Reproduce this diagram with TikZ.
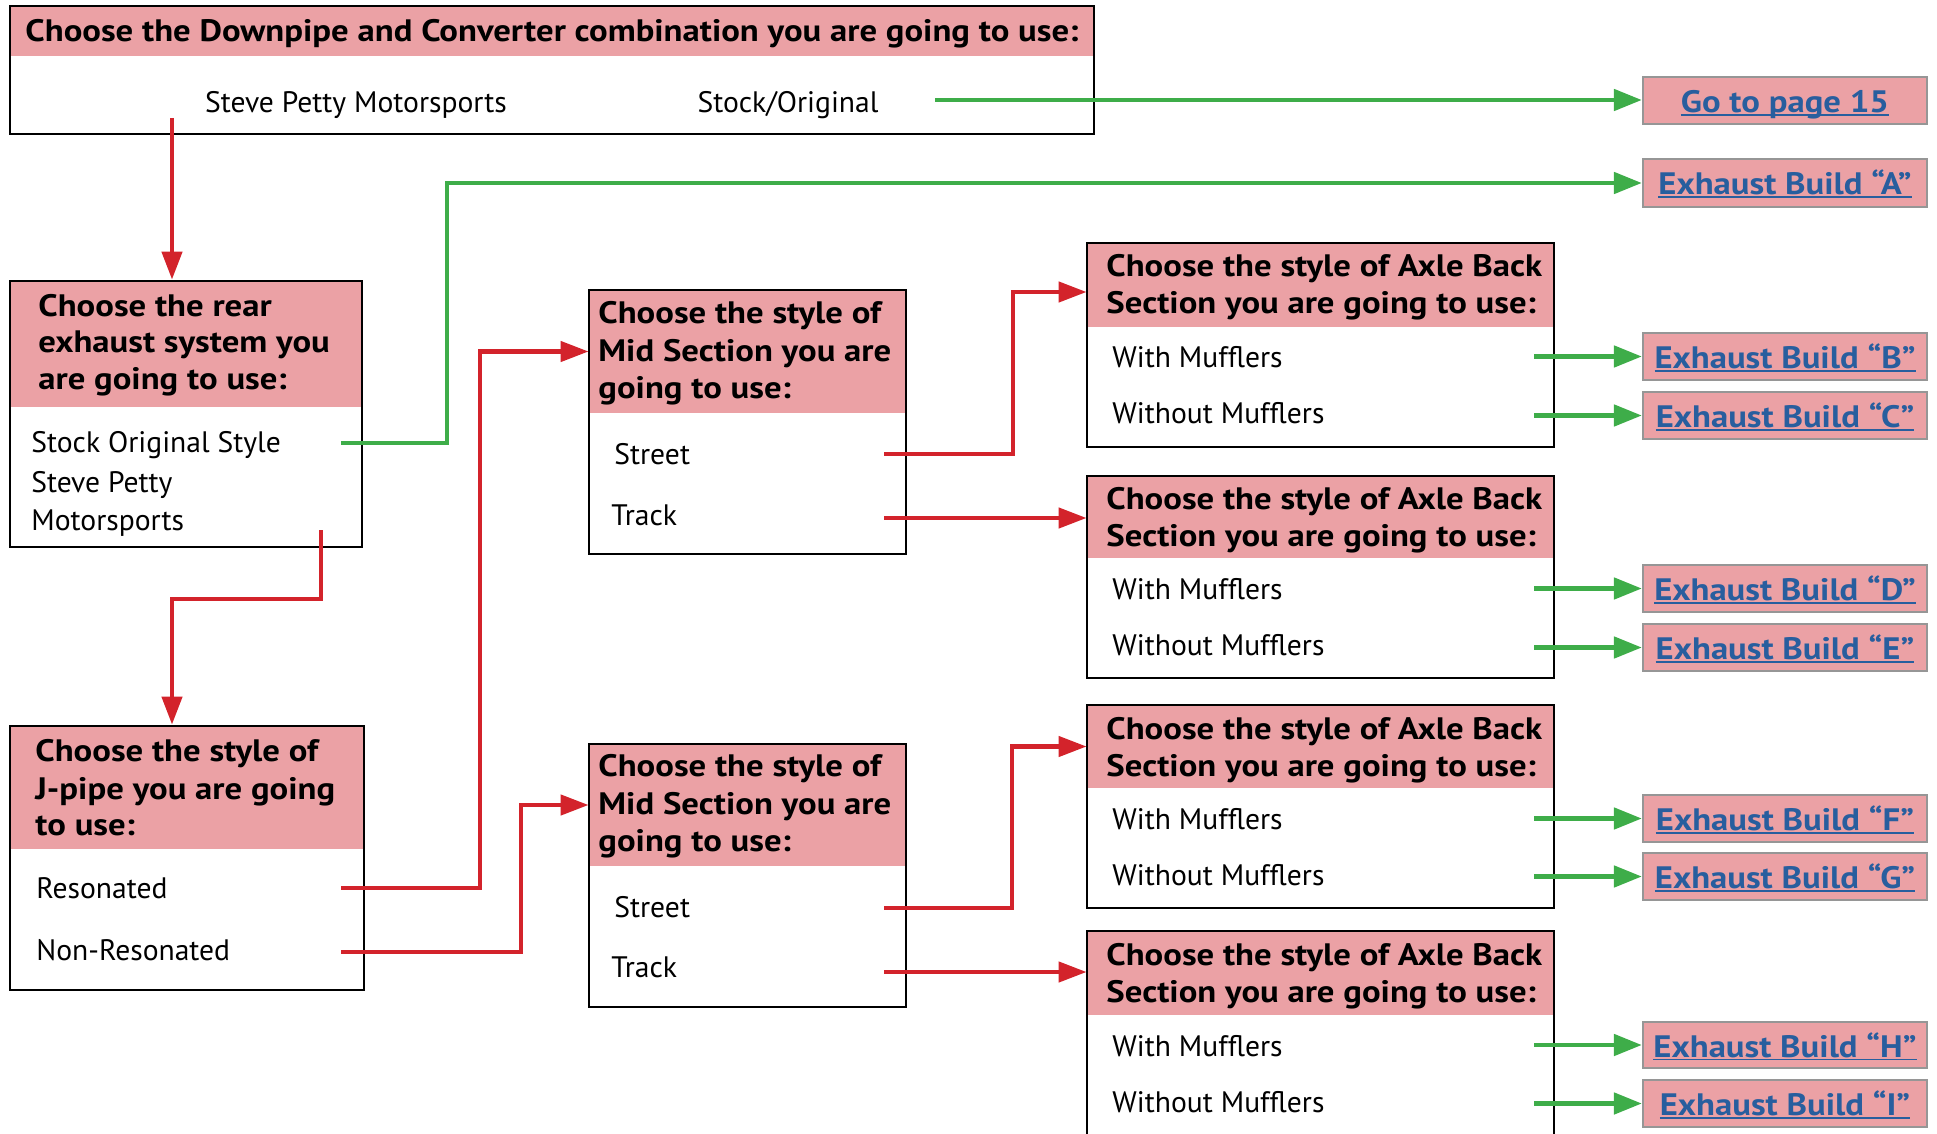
\documentclass[tikz,border=0pt]{standalone}
\usepackage{fontspec}
\setmainfont{PT Sans}
\newfontfamily\hfont{PT Sans}[FakeStretch=1.12]
\usetikzlibrary{arrows.meta,fit}
\definecolor{hpink}{RGB}{235,161,165}
\definecolor{ared}{RGB}{211,35,43}
\definecolor{agreen}{RGB}{62,173,73}
\definecolor{lblue}{RGB}{40,94,158}
\definecolor{lgray}{RGB}{150,150,150}
\newcommand\lnk[1]{\setbox0\hbox{#1}\rlap{\rule[-1.7pt]{\wd0}{0.95pt}}\box0}
\begin{document}
\begin{tikzpicture}[x=0.5pt,y=-0.5pt,
 frame/.style={draw=black,line width=1.4pt,inner sep=0pt},
 hdr/.style={fill=hpink,draw=none,inner sep=0pt},
 ht/.style={font=\hfont\fontsize{15.5}{18}\selectfont\bfseries,anchor=base west,inner sep=0pt},
 ot/.style={font=\fontsize{14.8}{17}\selectfont,anchor=base west,inner sep=0pt},
 linkbox/.style={fill=hpink,draw=lgray,line width=1.1pt,inner sep=0pt},
 lt/.style={font=\hfont\fontsize{15.5}{18}\selectfont\bfseries,text=lblue,inner sep=0pt,anchor=base},
 redarrow/.style={draw=ared,line width=2.2pt,-{Triangle[length=14pt,width=10pt]}},
 greenarrow/.style={draw=agreen,line width=2.4pt,-{Triangle[length=14pt,width=10.5pt]}},
]
\useasboundingbox (0,0) rectangle (1937,1134);
\clip (0,0) rectangle (1937,1134);

% ---------- top box
\node[hdr,fit={(10,6) (1094,56)}] (toph) {};
\node[frame,fit={(10,6) (1094,134)}] (top) {};
\node[ht,anchor=base] (toptxt) at (552,42) {Choose the Downpipe and Converter combination you are going to use:};
\node[ot,anchor=base] (topo1) at (356,113) {Steve Petty Motorsports};
\node[ot,anchor=base] (topo2) at (788,113) {Stock/Original};

% ---------- rear exhaust box
\node[hdr,fit={(10,281) (362,407)}] (rearh) {};
\node[frame,fit={(10,281) (362,547)}] (rear) {};
\node[ht] (rt1) at (38,316) {Choose the rear};
\node[ht] (rt2) at (38,352) {exhaust system you};
\node[ht] (rt3) at (38,389) {are going to use:};
\node[ot] (ro1) at (31,452) {Stock Original Style};
\node[ot] (ro2) at (31,492) {Steve Petty};
\node[ot] (ro3) at (31,530) {Motorsports};

% ---------- J-pipe box
\node[hdr,fit={(10,726) (364,849)}] (jph) {};
\node[frame,fit={(10,726) (364,990)}] (jp) {};
\node[ht] (jt1) at (35,761) {Choose the style of};
\node[ht] (jt2) at (35,799) {J-pipe you are going};
\node[ht] (jt3) at (35,835) {to use:};
\node[ot] (jo1) at (36,898) {Resonated};
\node[ot] (jo2) at (36,960) {Non-Resonated};

% ---------- mid section boxes
\node[hdr,fit={(589,290) (906,413)}] (m1h) {};
\node[frame,fit={(589,290) (906,554)}] (m1) {};
\node[ht] (m1t1) at (598,323) {Choose the style of};
\node[ht] (m1t2) at (598,361) {Mid Section you are};
\node[ht] (m1t3) at (598,398) {going to use:};
\node[ot] (m1o1) at (614,464) {Street};
\node[ot] (m1o2) at (611,525) {Track};

\node[hdr,fit={(589,744) (906,866)}] (m2h) {};
\node[frame,fit={(589,744) (906,1007)}] (m2) {};
\node[ht] (m2t1) at (598,776) {Choose the style of};
\node[ht] (m2t2) at (598,814) {Mid Section you are};
\node[ht] (m2t3) at (598,851) {going to use:};
\node[ot] (m2o1) at (614,917) {Street};
\node[ot] (m2o2) at (611,977) {Track};

% ---------- axle back boxes
\node[hdr,fit={(1087,243) (1554,327)}] (a1h) {};
\node[frame,fit={(1087,243) (1554,447)}] (a1) {};
\node[ht] (a1t1) at (1106,277) {Choose the style of Axle Back};
\node[ht] (a1t2) at (1106,314) {Section you are going to use:};
\node[ot] (a1o1) at (1112,367) {With Mufflers};
\node[ot] (a1o2) at (1112,423) {Without Mufflers};

\node[hdr,fit={(1087,476) (1554,558)}] (a2h) {};
\node[frame,fit={(1087,476) (1554,678)}] (a2) {};
\node[ht] (a2t1) at (1106,509) {Choose the style of Axle Back};
\node[ht] (a2t2) at (1106,546) {Section you are going to use:};
\node[ot] (a2o1) at (1112,599) {With Mufflers};
\node[ot] (a2o2) at (1112,655) {Without Mufflers};

\node[hdr,fit={(1087,705) (1554,788)}] (a3h) {};
\node[frame,fit={(1087,705) (1554,908)}] (a3) {};
\node[ht] (a3t1) at (1106,739) {Choose the style of Axle Back};
\node[ht] (a3t2) at (1106,776) {Section you are going to use:};
\node[ot] (a3o1) at (1112,829) {With Mufflers};
\node[ot] (a3o2) at (1112,885) {Without Mufflers};

\node[hdr,fit={(1087,931) (1554,1015)}] (a4h) {};
\node[frame,fit={(1087,931) (1554,1150)}] (a4) {};
\node[ht] (a4t1) at (1106,965) {Choose the style of Axle Back};
\node[ht] (a4t2) at (1106,1002) {Section you are going to use:};
\node[ot] (a4o1) at (1112,1056) {With Mufflers};
\node[ot] (a4o2) at (1112,1112) {Without Mufflers};

% ---------- link boxes
\node[linkbox,fit={(1643,77) (1927,124)}] (bP) {};
\node[lt] (tP) at ([yshift=-6pt]bP.center) {\lnk{Go to page 15}};
\node[linkbox,fit={(1643,159) (1927,207)}] (bA) {};
\node[lt] (tA) at ([yshift=-6pt]bA.center) {\lnk{Exhaust Build “A”}};
\node[linkbox,fit={(1643,333) (1927,380)}] (bB) {};
\node[lt] (tB) at ([yshift=-6pt]bB.center) {\lnk{Exhaust Build “B”}};
\node[linkbox,fit={(1643,392) (1927,439)}] (bC) {};
\node[lt] (tC) at ([yshift=-6pt]bC.center) {\lnk{Exhaust Build “C”}};
\node[linkbox,fit={(1643,565) (1927,612)}] (bD) {};
\node[lt] (tD) at ([yshift=-6pt]bD.center) {\lnk{Exhaust Build “D”}};
\node[linkbox,fit={(1643,624) (1927,671)}] (bE) {};
\node[lt] (tE) at ([yshift=-6pt]bE.center) {\lnk{Exhaust Build “E”}};
\node[linkbox,fit={(1643,795) (1927,842)}] (bF) {};
\node[lt] (tF) at ([yshift=-6pt]bF.center) {\lnk{Exhaust Build “F”}};
\node[linkbox,fit={(1643,853) (1927,900)}] (bG) {};
\node[lt] (tG) at ([yshift=-6pt]bG.center) {\lnk{Exhaust Build “G”}};
\node[linkbox,fit={(1643,1022) (1927,1068)}] (bH) {};
\node[lt] (tH) at ([yshift=-6pt]bH.center) {\lnk{Exhaust Build “H”}};
\node[linkbox,fit={(1643,1080) (1927,1127)}] (bI) {};
\node[lt] (tI) at ([yshift=-6pt]bI.center) {\lnk{Exhaust Build “I”}};

% ---------- connectors
\coordinate (tpS) at (172,118);
\draw[redarrow] (tpS) -- (tpS |- rear.north);
\coordinate (tpG) at (935,100);
\draw[greenarrow] (tpG) -- (tpG -| bP.west);

\coordinate (rO1) at (341,443);
\draw[greenarrow] (rO1) -- ++(106,0) |- (bA.west);
\coordinate (rO2) at (321,530);
\draw[redarrow] (rO2) -- ++(0,69) -| (tpS |- jp.north);

\coordinate (jO1) at (341,888);
\draw[redarrow] (jO1) -- ++(139,0) |- (m1h.west);
\coordinate (jO2) at (341,952);
\draw[redarrow] (jO2) -- ++(180,0) |- (m2h.west);

\coordinate (m1S) at (884,454);
\draw[redarrow] (m1S) -- ++(129,0) |- ([yshift=-3.5pt]a1h.west);
\coordinate (m1T) at (884,518);
\draw[redarrow] (m1T) -- (m1T -| a2h.west);
\coordinate (m2S) at (884,908);
\draw[redarrow] (m2S) -- ++(128,0) |- (a3h.west);
\coordinate (m2T) at (884,972);
\draw[redarrow] (m2T) -- (m2T -| a4h.west);

\coordinate (gx) at (1534,0);
\foreach \b in {bB,bC,bD,bE,bF,bG,bH,bI}
  \draw[greenarrow] (\b.west -| gx) -- (\b.west);
\end{tikzpicture}
\end{document}
